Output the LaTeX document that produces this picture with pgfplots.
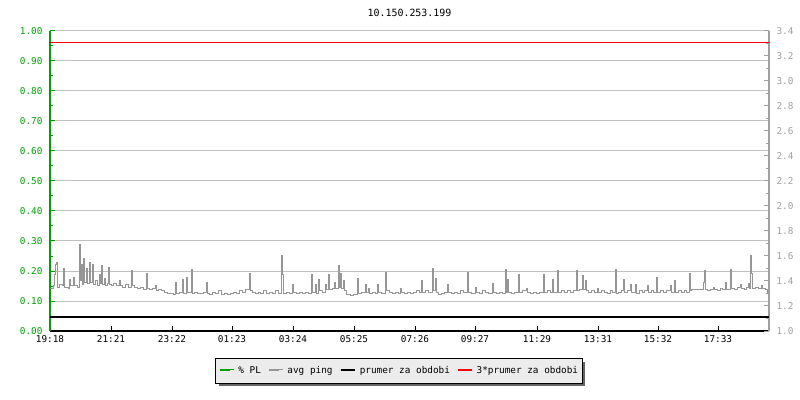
\documentclass[border=0pt]{standalone}
\usepackage{pgfplots}
\pgfplotsset{compat=1.18}
\usepackage{fontspec}
\setmainfont{DejaVu Sans Mono}
\usetikzlibrary{shadows}
\definecolor{plgreen}{RGB}{0,160,0}
\definecolor{pinggray}{RGB}{150,150,150}
\definecolor{axgray}{RGB}{160,160,160}
\definecolor{gridgray}{RGB}{192,192,192}
\definecolor{legfill}{RGB}{236,236,236}
\definecolor{shadowgray}{RGB}{100,100,100}
\newcommand{\tf}{\fontsize{9.4}{11}\selectfont}
\makeatletter
\tikzset{nopre/.code={\let\tikz@preactions\pgfutil@empty}}
\makeatother
\begin{document}
\begin{tikzpicture}
\useasboundingbox (-50bp,-69bp) rectangle (750bp,331bp);
% left axis (% PL scale) with grid
\begin{axis}[
  scale only axis, width=719bp, height=300bp,
  xmin=0, xmax=719, ymin=0, ymax=1,
  axis x line*=bottom, axis y line*=left,
  x axis line style={-, black, line width=1.2bp},
  y axis line style={-, plgreen, line width=1.2bp},
  xtick={0,61,122,182,243,304,365,425,487,548,608,668},
  xticklabels={19:18,21:21,23:22,01:23,03:24,05:25,07:26,09:27,11:29,13:31,15:32,17:33},
  ytick={0,0.1,0.2,0.3,0.4,0.5,0.6,0.7,0.8,0.9,1.0},
  minor y tick num=1,
  tick align=inside,
  major tick length=5bp, minor tick length=3bp,
  x tick style={black, line width=1bp},
  y tick style={plgreen, line width=1bp},
  ymajorgrids, major grid style={gridgray, line width=1bp},
  /pgf/number format/assume math mode=true,
  yticklabel style={plgreen, font=\tf, xshift=-4bp, /pgf/number format/fixed, /pgf/number format/precision=2, /pgf/number format/fixed zerofill},
  xticklabel style={black, font=\tf, yshift=-1bp},
  title={10.150.253.199},
  title style={font=\fontsize{10}{12}\selectfont, at={(0.5,1)}, anchor=center, yshift=12bp},
]
\addplot[draw=none, forget plot] coordinates {(0,0) (719,0)};
\end{axis}
% right axis (avg ping)
\begin{axis}[
  scale only axis, width=719bp, height=300bp,
  xmin=0, xmax=719, ymin=1, ymax=3.4,
  axis x line=none, axis y line*=right,
  y axis line style={-, axgray, line width=1.2bp},
  ytick={1.0,1.2,1.4,1.6,1.8,2.0,2.2,2.4,2.6,2.8,3.0,3.2,3.4},
  minor y tick num=1,
  tick align=inside,
  major tick length=5bp, minor tick length=3bp,
  y tick style={axgray, line width=1bp},
  /pgf/number format/assume math mode=true,
  yticklabel style={axgray, font=\tf, xshift=4bp, /pgf/number format/fixed, /pgf/number format/precision=1, /pgf/number format/fixed zerofill},
  legend columns=4,
  legend style={at={(0.4854,-0.1333)}, anchor=center, draw=black, line width=1bp,
    fill=legfill, font=\tf, inner xsep=3bp, inner ysep=7bp,
    drop shadow={shadow xshift=3bp, shadow yshift=-3bp, fill=shadowgray, opacity=1},
    nodes={inner sep=1bp, nopre},
    /tikz/every even column/.append style={column sep=6bp}},
  legend image code/.code={\path[nopre] (0bp,1bp) -- (14bp,1bp); \draw[nopre, #1, line width=2bp] (0bp,1bp) -- (10bp,1bp);},
]
\addlegendimage{plgreen}
\addlegendentry{\hspace{3bp}\% PL}
\addplot[pinggray, line width=1bp, const plot] table[x index=0, y index=1, header=false, row sep=\\] {
0 1.34\\3 1.36\\4 1.45\\5 1.53\\6 1.55\\7 1.35\\9 1.37\\12 1.36\\13 1.50\\14 1.35\\18 1.34\\19 1.41\\20 1.36\\23 1.43\\24 1.36\\27 1.35\\
29 1.69\\30 1.40\\31 1.53\\32 1.37\\33 1.58\\34 1.39\\36 1.50\\37 1.38\\39 1.55\\40 1.39\\42 1.53\\43 1.37\\45 1.40\\47 1.36\\49 1.45\\50 1.38\\51 1.52\\52 1.37\\54 1.42\\55 1.36\\57 1.38\\58 1.51\\59 1.37\\
61 1.36\\63 1.38\\66 1.36\\69 1.40\\70 1.36\\72 1.35\\75 1.37\\78 1.35\\81 1.48\\82 1.36\\84 1.35\\87 1.34\\
90 1.35\\93 1.33\\96 1.46\\97 1.34\\99 1.33\\102 1.34\\105 1.36\\106 1.32\\108 1.33\\111 1.32\\114 1.31\\117 1.30\\
120 1.30\\123 1.29\\125 1.39\\126 1.30\\129 1.31\\132 1.41\\133 1.30\\136 1.43\\137 1.31\\141 1.49\\142 1.30\\144 1.31\\147 1.30\\
150 1.30\\153 1.31\\156 1.39\\157 1.30\\159 1.29\\162 1.31\\165 1.30\\168 1.32\\171 1.29\\174 1.30\\177 1.29\\
180 1.30\\183 1.31\\186 1.30\\189 1.32\\192 1.31\\195 1.33\\199 1.46\\200 1.32\\202 1.31\\205 1.30\\208 1.31\\
210 1.30\\213 1.32\\216 1.30\\219 1.31\\222 1.30\\225 1.32\\228 1.30\\231 1.60\\232 1.45\\233 1.30\\236 1.31\\239 1.30\\
242 1.37\\243 1.31\\246 1.30\\249 1.31\\252 1.30\\255 1.31\\258 1.30\\261 1.45\\262 1.31\\265 1.37\\266 1.30\\268 1.41\\269 1.32\\
272 1.31\\275 1.37\\276 1.33\\278 1.45\\279 1.33\\282 1.34\\284 1.39\\285 1.34\\288 1.52\\289 1.35\\290 1.46\\291 1.34\\293 1.40\\294 1.32\\296 1.29\\
300 1.28\\303 1.29\\307 1.42\\308 1.30\\311 1.31\\315 1.37\\316 1.31\\318 1.34\\319 1.30\\322 1.31\\325 1.30\\327 1.37\\328 1.31\\
331 1.30\\335 1.47\\336 1.32\\339 1.31\\342 1.30\\345 1.31\\348 1.30\\350 1.34\\351 1.31\\354 1.30\\357 1.31\\
360 1.30\\363 1.31\\366 1.32\\369 1.31\\371 1.40\\372 1.31\\375 1.32\\378 1.31\\382 1.50\\383 1.32\\385 1.42\\386 1.31\\388 1.29\\
391 1.30\\394 1.31\\397 1.37\\398 1.31\\401 1.30\\404 1.31\\407 1.30\\410 1.32\\413 1.31\\417 1.47\\418 1.31\\
421 1.30\\425 1.35\\426 1.31\\429 1.30\\432 1.32\\435 1.31\\438 1.30\\442 1.38\\443 1.31\\446 1.30\\449 1.31\\
452 1.30\\455 1.49\\456 1.31\\457 1.41\\458 1.31\\461 1.30\\464 1.31\\468 1.45\\469 1.31\\472 1.32\\476 1.34\\477 1.31\\
480 1.30\\483 1.31\\486 1.30\\489 1.31\\493 1.45\\494 1.31\\497 1.32\\500 1.31\\502 1.41\\503 1.31\\507 1.48\\508 1.31\\
511 1.32\\514 1.31\\517 1.32\\520 1.31\\523 1.32\\526 1.48\\527 1.32\\529 1.33\\532 1.44\\533 1.33\\535 1.40\\536 1.32\\538 1.31\\
541 1.32\\544 1.31\\547 1.34\\548 1.31\\551 1.32\\554 1.31\\557 1.30\\560 1.32\\562 1.31\\565 1.49\\566 1.30\\568 1.31\\
571 1.32\\573 1.41\\574 1.31\\577 1.32\\580 1.37\\581 1.31\\585 1.37\\586 1.30\\589 1.32\\592 1.31\\594 1.32\\597 1.36\\598 1.31\\
601 1.32\\603 1.31\\606 1.43\\607 1.31\\610 1.32\\613 1.31\\616 1.32\\620 1.36\\621 1.31\\624 1.40\\625 1.31\\628 1.32\\
631 1.31\\634 1.32\\636 1.31\\639 1.46\\640 1.32\\641 1.33\\653 1.39\\654 1.48\\655 1.33\\657 1.32\\
660 1.33\\663 1.35\\664 1.33\\667 1.32\\670 1.34\\672 1.33\\675 1.39\\676 1.33\\680 1.49\\681 1.34\\684 1.33\\687 1.35\\
690 1.37\\691 1.34\\694 1.33\\696 1.35\\698 1.38\\699 1.34\\700 1.60\\701 1.46\\702 1.34\\705 1.35\\708 1.34\\711 1.36\\712 1.34\\715 1.33\\717 1.31\\720 1.32\\
};
\addlegendentry{\hspace{3bp}avg ping}
\addplot[black, line width=2.2bp] coordinates {(0,1.112) (719,1.112)};
\addlegendentry{\hspace{3bp}prumer za obdobi}
\addplot[red, line width=1.3bp] coordinates {(0,3.31) (719,3.31)};
\addlegendentry{\hspace{3bp}3*prumer za obdobi}
\end{axis}
\end{tikzpicture}
\end{document}
